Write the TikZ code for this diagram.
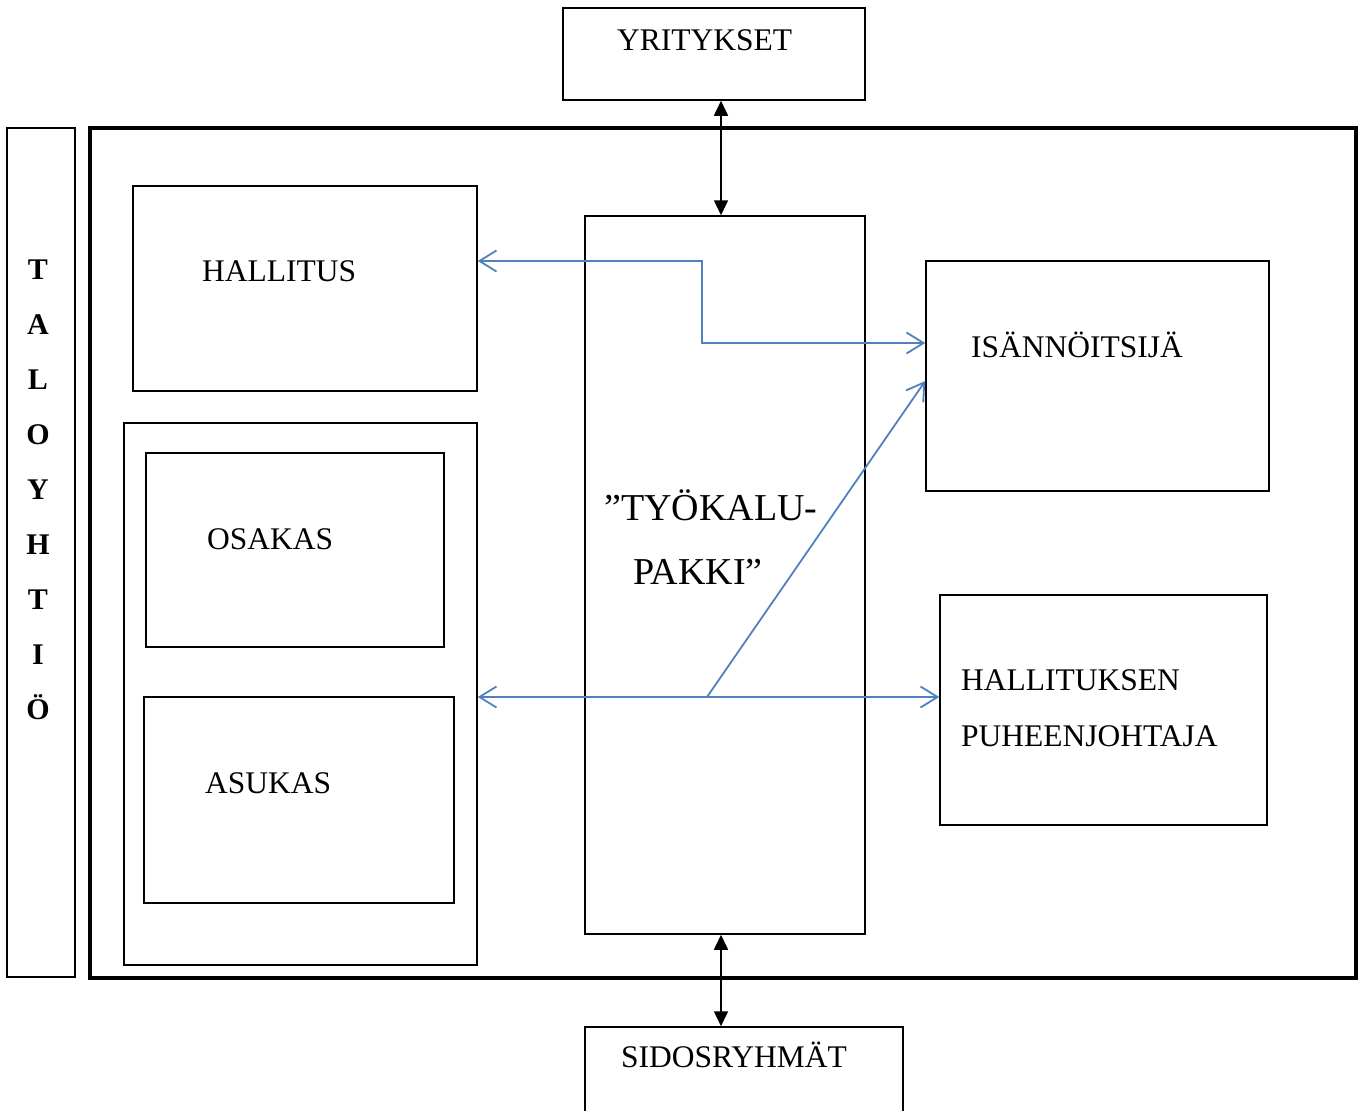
\documentclass[tikz,border=0pt]{standalone}
\usepackage{fontspec}
\setmainfont{Liberation Serif}
\usetikzlibrary{arrows.meta}
\definecolor{blu}{RGB}{79,129,189}
\begin{document}
\begin{tikzpicture}[x=1pt,y=-1pt,
  box/.style={draw, line width=1.5pt, inner sep=0pt},
  thickbox/.style={draw, line width=4pt, inner sep=0pt},
  txt/.style={inner sep=0pt, anchor=base west, font=\fontsize{31.5}{38}\selectfont},
  bigtxt/.style={inner sep=0pt, anchor=base west, font=\fontsize{38}{46}\selectfont},
  vlet/.style={inner sep=0pt, anchor=base, font=\fontsize{30}{36}\selectfont\bfseries},
  blk/.style={line width=1.6pt, {Triangle[length=15pt,width=14pt]}-{Triangle[length=15pt,width=14pt]}},
  bl/.style={draw=blu, line width=1.8pt},
  bt/.style={Straight Barb[length=17pt,width=21pt]}]
\useasboundingbox (0,0) rectangle (1363,1111);
% boxes
\node[box, minimum width=302pt, minimum height=92pt] (yrit) at (714,54) {};
\node[thickbox, minimum width=1266pt, minimum height=850pt] (talo) at (723,553) {};
\node[box, minimum width=68pt, minimum height=849pt] (side) at (41,552.5) {};
\node[box, minimum width=344pt, minimum height=205pt] (hall) at (305,288.5) {};
\node[box, minimum width=353pt, minimum height=542pt] (grp) at (300.5,694) {};
\node[box, minimum width=298pt, minimum height=194pt] (osak) at (295,550) {};
\node[box, minimum width=310pt, minimum height=206pt] (asuk) at (299,800) {};
\node[box, minimum width=280pt, minimum height=718pt] (tool) at (725,575) {};
\node[box, minimum width=343pt, minimum height=230pt] (isan) at (1097.5,376) {};
\node[box, minimum width=327pt, minimum height=230pt] (pj) at (1103.5,710) {};
\node[box, minimum width=318pt, minimum height=113pt] (sido) at (744,1083.5) {};
% texts
\node[txt] (tyrit) at (617,50) {YRITYKSET};
\node[txt] (thall) at (202,281) {HALLITUS};
\node[txt] (tosak) at (207,549) {OSAKAS};
\node[txt] (tasuk) at (205,793) {ASUKAS};
\node[txt] (tisan) at (971,357) {ISÄNNÖITSIJÄ};
\node[txt] (tpj1) at (961,690) {HALLITUKSEN};
\node[txt] (tpj2) at (961,746) {PUHEENJOHTAJA};
\node[txt] (tsido) at (621,1067) {SIDOSRYHMÄT};
\node[bigtxt] (ttool1) at (604,520) {”TYÖKALU-};
\node[bigtxt] (ttool2) at (633,584) {PAKKI”};
\foreach \l [count=\i from 0] in {T,A,L,O,Y,H,T,I,Ö} {
  \node[vlet] (let\i) at (38,{279+55*\i}) {\l};
}
% black connectors
\draw[blk] ([xshift=7pt]yrit.south) -- ([xshift=-4pt]tool.north);
\draw[blk] ([xshift=-4pt]tool.south) -- ([xshift=-23pt]sido.north);
% blue connectors
\coordinate (r1) at (0,261);
\coordinate (r2) at (702,343);
\coordinate (r3) at (0,697);
\coordinate (jn) at (707,697);
\coordinate (tg) at (0,381);
\draw[bl, {Straight Barb[length=17pt,width=21pt]}-{Straight Barb[length=17pt,width=21pt]}] (hall.east |- r1) -| (r2) -- (isan.west |- r2);
\draw[bl, {Straight Barb[length=17pt,width=21pt]}-{Straight Barb[length=17pt,width=21pt]}] (grp.east |- r3) -- (pj.west |- r3);
\draw[bl, -{Straight Barb[length=17pt,width=21pt]}] (jn) -- (isan.west |- tg);
\end{tikzpicture}
\end{document}
